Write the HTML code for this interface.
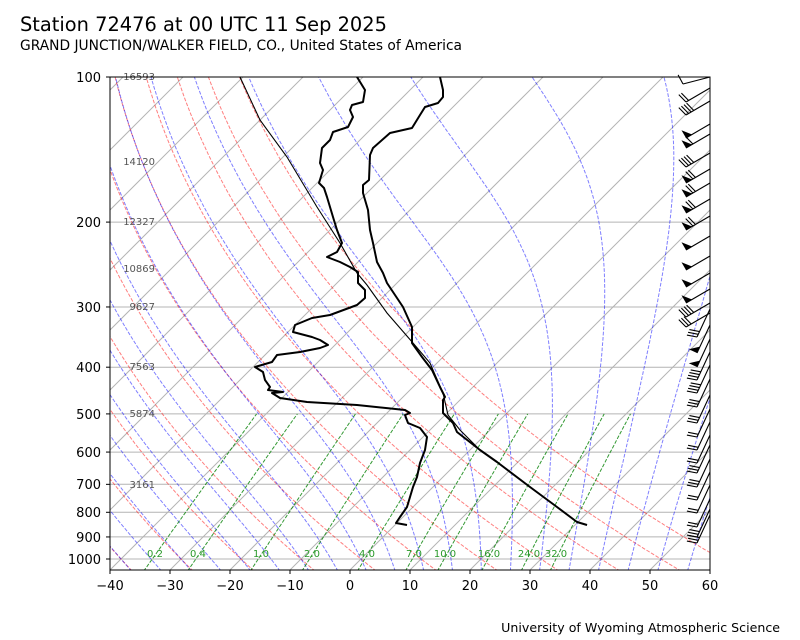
<!DOCTYPE html>
<html><head><meta charset="utf-8"><style>
html,body{margin:0;padding:0;background:#fff;}
svg{display:block;font-family:"DejaVu Sans","Liberation Sans",sans-serif;}
</style></head><body>
<svg id="s" width="800" height="640" viewBox="0 0 800 640" xmlns="http://www.w3.org/2000/svg">
<defs><clipPath id="c"><rect x="110" y="77" width="600" height="493"/></clipPath></defs>
<rect width="800" height="640" fill="#fff"/>
<text x="20" y="31" font-size="19.4" fill="#000">Station 72476 at 00 UTC 11 Sep 2025</text>
<text x="20" y="50" font-size="13.8" fill="#000">GRAND JUNCTION/WALKER FIELD, CO., United States of America</text>
<text x="780" y="632" font-size="12.6" fill="#000" text-anchor="end">University of Wyoming Atmospheric Science</text>
<g id="bg" clip-path="url(#c)"></g>
<g id="ml" font-size="10" fill="#2a9a2a" text-anchor="middle">
<text x="155" y="557">0.2</text><text x="198" y="557">0.4</text><text x="261" y="557">1.0</text><text x="312" y="557">2.0</text><text x="367" y="557">4.0</text><text x="414" y="557">7.0</text><text x="445" y="557">10.0</text><text x="489" y="557">16.0</text><text x="529" y="557">24.0</text><text x="556" y="557">32.0</text>
</g>
<g font-size="10" fill="#555" text-anchor="end">
<text x="155" y="80">16593</text><text x="155" y="165">14120</text><text x="155" y="225">12327</text><text x="155" y="272">10869</text><text x="155" y="310">9627</text><text x="155" y="370">7563</text><text x="155" y="417">5874</text><text x="155" y="488">3161</text>
</g>
<g id="fg" clip-path="url(#c)"></g>
<g id="wb"></g>
<rect x="110" y="77" width="600" height="493" fill="none" stroke="#000" stroke-width="1"/>
<g id="ax" font-size="13" fill="#000"></g>
<g font-size="13" fill="#000" text-anchor="end">
<text x="101" y="82">100</text><text x="101" y="227">200</text><text x="101" y="312">300</text><text x="101" y="372">400</text><text x="101" y="419">500</text><text x="101" y="457">600</text><text x="101" y="489">700</text><text x="101" y="517">800</text><text x="101" y="542">900</text><text x="101" y="564">1000</text>
</g>
<g font-size="13" fill="#000" text-anchor="middle">
<text x="110" y="590">−40</text><text x="170" y="590">−30</text><text x="230" y="590">−20</text><text x="290" y="590">−10</text><text x="350" y="590">0</text><text x="410" y="590">10</text><text x="470" y="590">20</text><text x="530" y="590">30</text><text x="590" y="590">40</text><text x="650" y="590">50</text><text x="710" y="590">60</text>
</g>
</svg>
<script>
(function(){
var NS="http://www.w3.org/2000/svg";
function Y(p){return 77+482*Math.log10(p/100);}
function X(T,y){return 110+(T+40)*6+(570-y);}
function el(par,tag,at){var e=document.createElementNS(NS,tag);for(var k in at)e.setAttribute(k,at[k]);document.getElementById(par).appendChild(e);return e;}
function path(par,pts,st){var d="";pts.forEach(function(q,i){d+=(i?"L":"M")+q[0].toFixed(1)+","+q[1].toFixed(1);});var a={d:d,fill:"none"};for(var k in st)a[k]=st[k];return el(par,"path",a);}
var P=[];for(var p=1060;p>=95;p-=5)P.push(p);
for(var T=-150;T<=60;T+=10){path("bg",[[X(T,570),570],[X(T,77),77]],{stroke:"#b4b4b4","stroke-width":1});}
for(var p=100;p<=1000;p+=100){var y=Y(p);path("bg",[[110,y],[710,y]],{stroke:"#b4b4b4","stroke-width":1});el("ax","line",{x1:106,y1:y,x2:110,y2:y,stroke:"#000"});}
for(var T=-40;T<=60;T+=10){var x=110+(T+40)*6;el("ax","line",{x1:x,y1:570,x2:x,y2:574,stroke:"#000"});}
var dash="3.7,1.6";
for(var t0=-80;t0<=60;t0+=10){var th=t0+273.15,pts=[];P.forEach(function(p){var T=th*Math.pow(p/1000,0.2857)-273.15;var y=Y(p);pts.push([X(T,y),y]);});path("bg",pts,{stroke:"rgba(255,0,0,0.5)","stroke-width":1,"stroke-dasharray":dash});}
function es(T){return 6.112*Math.exp(17.67*T/(T+243.5));}
function dTdp(T,p){var Tk=T+273.15,e=es(T),rs=0.622*e/(p-e),Lv=2.501e6,Rd=287.04,cp=1005.7;return (Rd*Tk+Lv*rs)/(cp+Lv*Lv*rs*0.622/(Rd*Tk*Tk))/p;}
for(var t0=-50;t0<=60;t0+=5){var T=t0,p=1000;var up=[];while(p>=95){var y=Y(p);up.push([X(T,y),y]);T-=dTdp(T,p);p-=1;}
T=t0;p=1000;var dn=[];while(p<=1060){var y=Y(p);dn.push([X(T,y),y]);T+=dTdp(T,p);p+=1;}
var all=dn.reverse().concat(up);var sp=[];all.forEach(function(q,i){if(i%4==0)sp.push(q);});path("bg",sp,{stroke:"rgba(0,0,255,0.5)","stroke-width":1,"stroke-dasharray":dash});}
[0.2,0.4,1,2,4,7,10,16,24,32].forEach(function(w){w/=1000;var pts=[];for(var p=1060;p>=500;p-=10){var e=w*p/(0.622+w),l=Math.log(e/6.112),Td=243.5*l/(17.67-l);var y=Y(p);pts.push([X(Td,y),y]);}path("bg",pts,{stroke:"rgba(0,128,0,0.8)","stroke-width":1,"stroke-dasharray":dash});});
var temp=[[440,77],[443,90],[443,97],[438,103],[425,107],[420,115],[412,128],[390,133],[373,148],[370,155],[369,180],[363,185],[363,193],[368,210],[370,230],[373,243],[377,262],[383,273],[387,283],[393,292],[403,307],[412,327],[412,343],[422,357],[432,370],[440,387],[445,397],[443,400],[443,413],[453,423],[457,432],[480,450],[497,462],[530,487],[557,507],[577,522],[587,525]];
var parc=[[240,77],[260,120],[287,157],[317,207],[340,243],[357,273],[367,285],[387,313],[413,343],[430,363],[443,393],[448,415],[460,430],[480,450],[497,462],[530,487],[557,507],[577,522],[587,525]];
var dew=[[357,77],[365,90],[363,102],[352,105],[350,110],[353,117],[348,127],[333,132],[330,140],[322,148],[320,163],[323,170],[319,183],[324,188],[327,197],[330,207],[333,217],[337,230],[342,243],[337,252],[327,257],[340,262],[350,267],[358,272],[358,283],[365,290],[365,298],[357,305],[330,315],[312,318],[295,325],[293,332],[312,337],[320,340],[328,345],[320,348],[300,352],[277,355],[272,362],[255,367],[263,372],[265,380],[270,387],[268,390],[283,392],[272,393],[280,398],[307,402],[357,405],[405,410],[410,413],[405,415],[408,423],[420,428],[427,437],[425,450],[420,463],[417,477],[413,487],[410,497],[407,507],[400,517],[396,523],[407,525]];
path("fg",parc,{stroke:"#000","stroke-width":1.1});
path("fg",temp,{stroke:"#000","stroke-width":2,"stroke-linejoin":"round"});
path("fg",dew,{stroke:"#000","stroke-width":2,"stroke-linejoin":"round"});
var B=[[77,0,1],[102,0,2],[115,0,4],[138,1,0],[148,1,1],[167,0,4],[183,1,2],[197,1,2],[213,1,2],[230,1,2],[250,1,0],[270,1,0],[287,1,0],[303,1,0],[317,0,4],[327,0,3],[337,0,3],[353,1,0],[367,1,0],[380,0,4],[393,0,4],[407,0,3],[423,0,3],[437,0,2],[450,0,2],[463,0,2],[473,0,3],[487,0,3],[500,0,2],[513,0,2],[527,0,2],[537,0,3],[543,0,3]];
B.forEach(function(b){var y=b[0];var up=y<330;var x0=710,y0=up?y-14:y-28,x1=up?686:697,y1=y;if(y<80){y0=77;y1=84;x1=683;}
var dx=x1-x0,dy=y1-y0,L=Math.sqrt(dx*dx+dy*dy),ux=dx/L,uy=dy/L;var nx=-uy,ny=ux;
if(nx>0){nx=-nx;ny=-ny;}
path("wb",[[x0,y0],[x1,y1]],{stroke:"#000","stroke-width":1.1});
var pos=0;for(var i=0;i<b[1];i++){var ax=x1-ux*pos,ay=y1-uy*pos,bx=x1-ux*(pos+7),by=y1-uy*(pos+7);
el("wb","polygon",{points:ax+","+ay+" "+(ax+nx*9)+","+(ay+ny*9)+" "+bx+","+by,fill:"#000"});pos+=8;}
for(var i=0;i<b[2];i++){var ax=x1-ux*pos,ay=y1-uy*pos;path("wb",[[ax,ay],[ax+nx*10+ux*2.5,ay+ny*10+uy*2.5]],{stroke:"#000","stroke-width":1.1});pos+=3;}
});
})();
</script>
</body></html>
